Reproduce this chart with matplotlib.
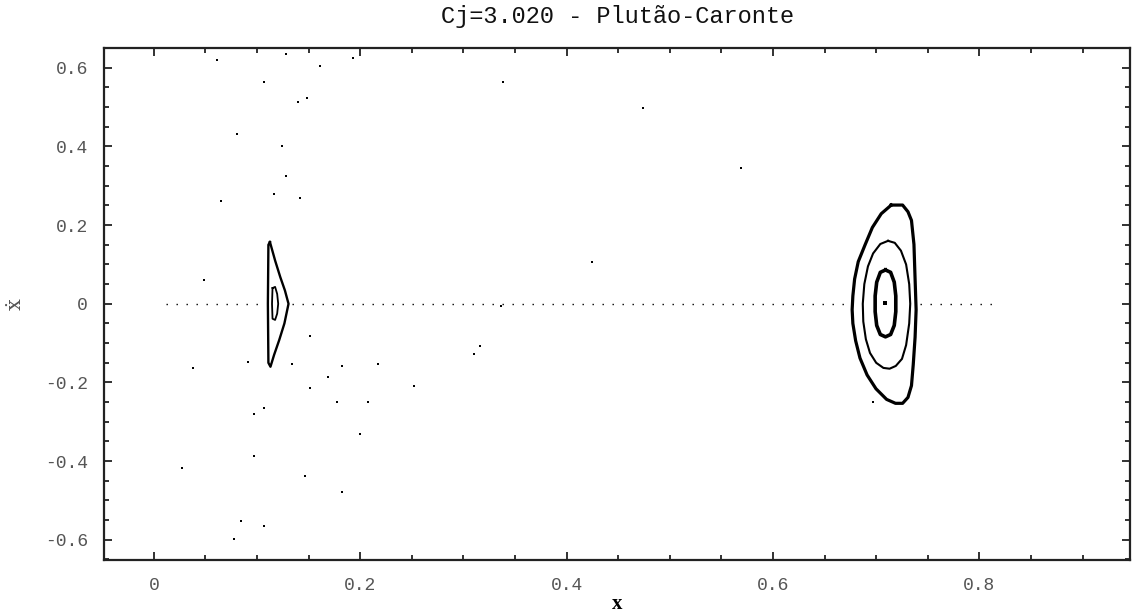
import matplotlib
matplotlib.use("Agg")
import matplotlib.pyplot as plt
from matplotlib.ticker import MultipleLocator, FuncFormatter

plt.rcParams["axes.unicode_minus"] = False

# scattered (chaotic) section points
scatter_x = [0.061, 0.107, 0.128, 0.140, 0.148, 0.081, 0.124, 0.161, 0.193, 0.128,
             0.116, 0.142, 0.065, 0.338, 0.474, 0.569, 0.425, 0.336, 0.049, 0.0375,
             0.091, 0.151, 0.134, 0.1515, 0.177, 0.208, 0.097, 0.107, 0.200, 0.097,
             0.027, 0.146, 0.1825, 0.084, 0.107, 0.078, 0.1825, 0.2175, 0.169, 0.252,
             0.316, 0.3105, 0.697]
scatter_y = [0.619, 0.565, 0.636, 0.513, 0.523, 0.431, 0.401, 0.604, 0.624, 0.325,
             0.279, 0.269, 0.262, 0.564, 0.497, 0.344, 0.106, -0.006, 0.060, -0.164,
             -0.149, -0.082, -0.154, -0.215, -0.250, -0.250, -0.281, -0.266, -0.332, -0.387,
             -0.418, -0.438, -0.479, -0.551, -0.565, -0.597, -0.159, -0.154, -0.185, -0.210,
             -0.108, -0.128, -0.249]

# dotted segments along xdot = 0
seg_start = [0.012, 0.134, 0.742]
seg_end = [0.108, 0.674, 0.818]

# island around x ~ 0.12
left_outer_x = [0.1125, 0.1175, 0.1225, 0.1270, 0.1305, 0.1265, 0.1215, 0.1165, 0.1130,
                0.1110, 0.1105, 0.1110, 0.1125]
left_outer_y = [0.157, 0.110, 0.068, 0.034, 0.000, -0.050, -0.092, -0.130, -0.160,
                -0.150, 0.000, 0.150, 0.157]
left_inner_x = [0.1150, 0.1175, 0.1195, 0.1205, 0.1195, 0.1175, 0.1150, 0.1145, 0.1150]
left_inner_y = [0.040, 0.043, 0.025, 0.000, -0.025, -0.041, -0.038, 0.000, 0.040]

# island around x ~ 0.71
right_outer_x = [0.7146, 0.7049, 0.6963, 0.6894, 0.6826, 0.6791, 0.6774, 0.6767, 0.6774,
                 0.6801, 0.6843, 0.6912, 0.6998, 0.7101, 0.7187, 0.7256, 0.7308, 0.7342,
                 0.7359, 0.7377, 0.7387, 0.7377, 0.7366, 0.7342, 0.7308, 0.7256, 0.7146]
right_outer_y = [0.251, 0.229, 0.194, 0.151, 0.107, 0.063, 0.020, -0.015, -0.050,
                 -0.094, -0.138, -0.181, -0.216, -0.243, -0.253, -0.253, -0.238, -0.208,
                 -0.155, -0.085, -0.015, 0.063, 0.151, 0.212, 0.234, 0.251, 0.251]
right_mid_x = [0.7115, 0.704, 0.697, 0.692, 0.6885, 0.687, 0.6875, 0.690, 0.694, 0.700,
               0.707, 0.713, 0.719, 0.725, 0.729, 0.732, 0.733, 0.732, 0.729, 0.724,
               0.718, 0.7115]
right_mid_y = [0.160, 0.152, 0.128, 0.095, 0.050, 0.000, -0.045, -0.090, -0.125, -0.150,
               -0.163, -0.165, -0.158, -0.140, -0.105, -0.050, 0.000, 0.050, 0.100, 0.135,
               0.155, 0.160]
right_inner_x = [0.709, 0.704, 0.7005, 0.699, 0.699, 0.7005, 0.704, 0.709, 0.714, 0.7175,
                 0.719, 0.719, 0.7175, 0.714, 0.709]
right_inner_y = [0.086, 0.080, 0.055, 0.020, -0.020, -0.055, -0.078, -0.084, -0.078, -0.055,
                 -0.020, 0.020, 0.055, 0.080, 0.086]
center_x = [0.7085]
center_y = [0.001]

x_ticks = [0, 0.2, 0.4, 0.6, 0.8]
y_ticks = [-0.6, -0.4, -0.2, 0, 0.2, 0.4, 0.6]

fig = plt.figure(figsize=(11.34, 6.14), dpi=100)
ax = fig.add_axes([0.092, 0.0875, 0.9045, 0.8348])

for a, b in zip(seg_start, seg_end):
    ax.plot([a, b], [0, 0], color="black", lw=1.0, ls=(0, (1, 6.2)),
            dash_capstyle="butt")

ax.plot(scatter_x, scatter_y, ls="none", marker="s", ms=1.5, mew=0, color="black")

ax.plot(left_outer_x, left_outer_y, color="black", lw=1.7)
ax.plot(left_inner_x, left_inner_y, color="black", lw=1.3)
ax.plot(right_outer_x, right_outer_y, color="black", lw=2.3)
ax.plot(right_mid_x, right_mid_y, color="black", lw=1.5)
ax.plot(right_inner_x, right_inner_y, color="black", lw=2.6)
ax.plot(center_x, center_y, ls="none", marker="s", ms=2.2, mew=0, color="black")

ax.set_xlim(-0.048, 0.946)
ax.set_ylim(-0.652, 0.651)

ax.set_xticks(x_ticks)
ax.set_yticks(y_ticks)
ax.xaxis.set_minor_locator(MultipleLocator(0.05))
ax.yaxis.set_minor_locator(MultipleLocator(0.05))
fmt = FuncFormatter(lambda v, p: "0" if abs(v) < 1e-9 else "%g" % v)
ax.xaxis.set_major_formatter(fmt)
ax.yaxis.set_major_formatter(fmt)
ax.tick_params(which="both", direction="in", top=True, right=True, width=1.3,
               color="#222222")
ax.tick_params(which="major", length=5.5, pad=12)
ax.tick_params(which="minor", length=3.5)
for lab in ax.get_xticklabels() + ax.get_yticklabels():
    lab.set_fontfamily("Liberation Mono")
    lab.set_fontsize(13)
    lab.set_color("#555555")
for s in ax.spines.values():
    s.set_linewidth(1.6)
    s.set_color("#222222")

ax.set_title("Cj=3.020 - Plutão-Caronte", fontfamily="Liberation Mono",
             fontsize=17, color="#111111", pad=18)
ax.set_xlabel("x", fontfamily="Liberation Serif", fontweight="bold", fontsize=15,
              labelpad=0)
ax.set_ylabel("ẋ", fontfamily="DejaVu Serif", fontsize=15, color="#555555",
              labelpad=14)

plt.savefig("out.png", dpi=100)
